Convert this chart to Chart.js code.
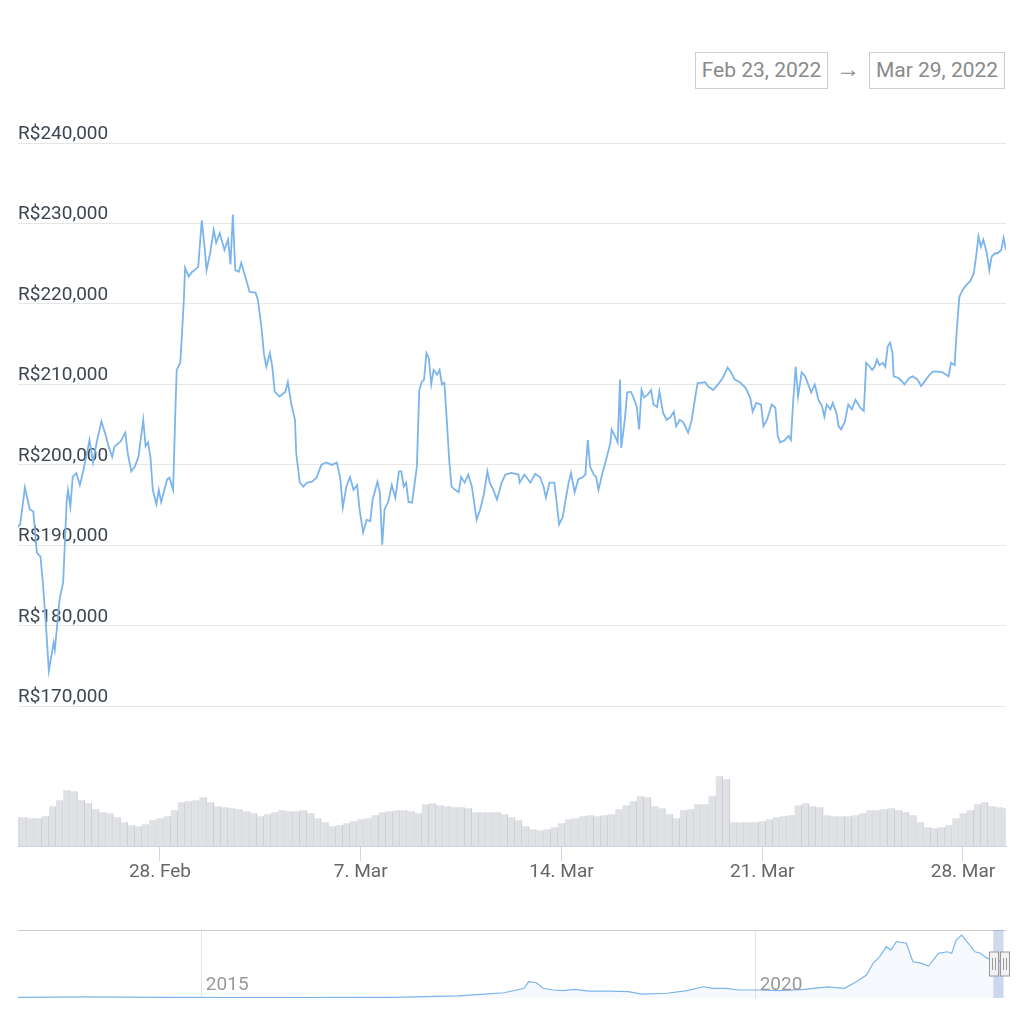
<!DOCTYPE html>
<html>
<head>
<meta charset="utf-8">
<script src="https://cdn.jsdelivr.net/npm/chart.js@4.4.1/dist/chart.umd.min.js"></script>
<style>
  html, body { margin: 0; padding: 0; background: #fff; }
  body { width: 1024px; height: 1024px; position: relative; overflow: hidden; font-family: Roboto, 'Noto Sans', sans-serif; }
  #mainChart { position: absolute; left: 0; top: 0; }
  #navChart { position: absolute; left: 0; top: 920px; }
  .range { position: absolute; top: 52px; height: 35px; line-height: 35px; border: 1px solid #cfcfcf; font-size: 21px; color: #8a8a8a; text-align: center; }
  #arrow { position: absolute; left: 836px; top: 51px; line-height: 37px; font-size: 24px; color: #8a8a8a; }
</style>
</head>
<body>
<div class="range" id="rangeFrom" style="left:695px;width:131px;"></div>
<div id="arrow">&rarr;</div>
<div class="range" id="rangeTo" style="left:869px;width:134px;"></div>
<canvas id="mainChart" width="1024" height="900"></canvas>
<canvas id="navChart" width="1024" height="90"></canvas>
<script>
// hours since 23 Feb 2022 00:00
const priceHours = [1,3,7,11,14,17,20,22,25,27, 31,32,36,39,42,43,45,47,50,53,
  56,59,61,64,67,71,74,77,80,82, 87,91,93,96,99,102,106,108,110,112,
  114,116,117,119,121,126,128,131,133,134, 137,138,140,141,144,147,149,152,155,157,
  159,162,165,167,170,174,177,179,181,183, 186,188,191,195,200,202,205,207,209,212,
  214,216,220,225,227,230,233,234,237,240, 243,247,251,255,259,264,268,271,273,276,
  279,282,285,287,290,293,296,298,302,304, 306,308,311,314,317,320,322,324,326,328,
  331,335,337,339,341,343,345,347,349,352, 354,356,358,360,362,364,367,370,372,375,
  378,381,385,388,391,394,396,399,402,406, 409,414,420,421,425,430,434,438,441,443,
  446,450,452,454,457,459,462,464,467,470, 474,476,478,480,483,485,487,490,494,497,
  498,501,503,505,506,509,511,514,516,519, 521,523,525,528,531,533,536,538,541,544,
  547,550,552,555,558,562,565,568,570,573, 576,579,583,587,591,595,598,601,605,610,
  614,616,619,623,625,628,632,635,637,639, 643,646,648,650,652,654,657,660,662,665,
  668,671,674,676,678,681,683,686,688,690, 693,696,699,702,706,709,711,714,716,718,
  720,722,725,727,729,731,733,734,738,741, 743,747,750,754,757,761,764,767,771,775,
  780,782,785,787,789,792,795,798,801,803, 805,807,809,812,814,816,819,821,824,826,
  828];

// BTC price, thousands of R$
const pricesK = [192.3,192.6,197.2,194.5,194.2,189.1,188.6,185.4,179.2,174.4,
  177.9,177.0,183.3,185.4,195.7,196.9,194.8,198.5,199.0,197.5,
  199.4,201.5,203.1,200.3,202.8,205.4,204.0,202.3,201.0,202.3,
  202.9,204.0,201.5,199.2,199.8,201.0,205.6,202.3,202.8,201.0,
  196.9,195.7,195.1,196.9,195.4,198.2,198.4,196.9,207.2,211.8,
  212.7,215.2,220.5,224.5,223.4,224.0,224.2,224.6,230.4,227.6,
  224.2,226.3,229.2,227.6,228.8,226.7,228.0,224.9,231.1,224.2,
  224.0,225.1,223.6,221.5,221.4,220.5,217.0,213.8,212.2,213.9,
  212.2,209.1,208.5,209.1,210.3,207.5,205.6,201.5,197.8,197.3,
  197.8,197.9,198.4,200.0,200.3,200.0,200.3,198.2,194.7,197.3,
  198.5,196.9,197.5,194.5,191.6,193.2,193.0,195.7,197.9,196.6,
  190.1,194.5,195.4,197.5,195.9,199.2,199.2,197.3,197.8,195.4,
  195.3,199.8,209.3,210.3,210.6,213.9,213.3,210.0,211.8,211.2,
  211.8,210.0,210.2,205.6,200.7,197.3,196.9,196.6,198.5,197.8,
  198.8,197.3,193.2,194.5,196.3,199.2,197.8,196.9,195.7,197.8,
  198.8,199.0,198.8,197.8,198.8,197.8,198.9,198.5,197.3,195.9,
  197.8,197.8,195.3,192.6,193.5,195.3,197.8,199.0,196.6,198.2,
  198.5,198.8,203.1,199.8,198.8,198.5,196.9,198.8,201.0,202.8,
  204.4,203.5,202.8,210.6,202.1,205.6,209.0,209.1,208.5,207.2,
  204.4,209.3,208.4,208.7,209.3,207.5,207.2,209.1,206.5,205.6,
  205.9,206.6,204.8,205.6,205.3,204.0,205.6,208.5,210.2,210.2,
  210.3,209.7,209.3,210.0,210.8,212.1,211.5,210.6,210.3,209.6,
  208.3,206.6,207.7,207.5,204.8,205.6,207.5,207.1,203.6,202.8,
  203.1,203.6,203.1,208.1,212.2,208.5,211.5,211.0,210.2,209.0,
  210.0,208.1,207.3,206.0,207.5,206.9,207.7,206.5,204.8,204.4,
  205.3,207.5,206.9,208.1,207.1,206.7,212.7,212.2,211.8,212.2,
  213.1,212.4,212.7,212.2,214.7,215.2,213.9,211.0,210.8,210.4,
  210.0,210.8,211.0,210.6,209.8,210.6,211.2,211.6,211.6,211.5,
  211.0,212.7,212.4,217.2,220.9,221.8,222.4,222.8,223.8,225.9,
  228.4,227.1,228.0,226.3,224.2,225.9,226.3,226.3,226.7,228.2,
  226.7];

// volume, one bar every 6 hours from hour 0
const volStep = 6;
const volumes = [29,29,28,28,30,40,46,56,55,46,
  43,37,34,33,29,24,21,20,22,26,
  28,30,36,44,45,46,49,44,40,39,
  38,37,35,33,30,32,34,36,35,35,
  36,33,28,24,20,21,23,25,27,28,
  31,34,35,36,36,35,33,42,43,41,
  40,39,39,38,34,34,34,34,32,29,
  26,20,17,16,17,19,23,27,28,30,
  31,30,31,32,37,41,45,50,49,40,
  38,32,28,36,37,42,42,50,70,67,
  24,24,24,24,25,27,29,30,31,41,
  43,40,39,31,30,30,30,31,33,36,
  36,37,38,36,34,31,24,19,18,19,
  21,28,33,36,42,44,40,39,38];

const priceTicks = [170000,180000,190000,200000,210000,220000,230000,240000];
const xTickHours = [120,288,456,624,792];
const xTickLabels = ['28. Feb','7. Mar','14. Mar','21. Mar','28. Mar'];

// navigator: full history, year fraction / thousands of R$
const navYears = [2013.33,2013.95,2014.66,2015.54,2016.72,2017.31,2017.55,2017.73,2017.91,2017.95,
  2018.02,2018.08,2018.17,2018.26,2018.37,2018.49,2018.67,2018.85,2018.97,2019.2,
  2019.38,2019.53,2019.62,2019.73,2019.85,2020.03,2020.21,2020.44,2020.65,2020.8,
  2020.91,2021.0,2021.06,2021.12,2021.18,2021.22,2021.27,2021.36,2021.42,2021.5,
  2021.56,2021.65,2021.73,2021.77,2021.81,2021.86,2021.92,2021.98,2022.03,2022.09,
  2022.24];
const navPricesK = [4,7,4,3,4,12,23,31,57,96,
  90,57,47,43,51,41,41,37,23,28,
  43,66,57,57,47,47,43,51,66,57,
  96,135,204,243,302,282,331,322,213,204,
  188,263,272,263,341,370,322,272,263,233,
  212];
const navTickYears = [2015, 2020];
const navRange = [2022.145, 2022.238];
const rangeLabels = ['Feb 23, 2022', 'Mar 29, 2022'];

document.getElementById('rangeFrom').textContent = rangeLabels[0];
document.getElementById('rangeTo').textContent = rangeLabels[1];

Chart.defaults.font.family = 'Roboto';

new Chart(document.getElementById('mainChart'), {
  type: 'line',
  data: {
    datasets: [{
      type: 'line',
      data: priceHours.map((h, i) => ({ x: h, y: pricesK[i] * 1000 })),
      borderColor: '#7cb5ec',
      borderWidth: 1.8,
      pointRadius: 0,
      tension: 0,
      yAxisID: 'y',
      order: 0
    }, {
      type: 'bar',
      data: volumes.map((v, i) => ({ x: i * volStep, y: v })),
      backgroundColor: '#dfe1e5',
      borderColor: '#c7cbd1',
      borderWidth: { left: 0, right: 1, top: 0, bottom: 0 },
      borderSkipped: false,
      barPercentage: 1,
      categoryPercentage: 1,
      yAxisID: 'yv',
      order: 1
    }]
  },
  options: {
    responsive: false,
    animation: false,
    layout: { padding: { left: 18, right: 18, top: 143, bottom: 16 } },
    plugins: { legend: { display: false }, tooltip: { enabled: false } },
    scales: {
      x: {
        type: 'linear',
        min: 1.2,
        max: 828,
        offset: false,
        afterBuildTicks: ax => { ax.ticks = xTickHours.map(v => ({ value: v })); },
        grid: { offset: false, drawOnChartArea: false, tickLength: 15, tickColor: '#ccd6eb' },
        border: { color: '#ccd6eb' },
        ticks: {
          callback: v => xTickLabels[xTickHours.indexOf(v)],
          color: '#666666',
          font: { size: 19 },
          padding: 0,
          maxRotation: 0,
          autoSkip: false
        }
      },
      y: {
        position: 'left',
        min: 152623,
        max: 240000,
        afterBuildTicks: ax => { ax.ticks = priceTicks.map(v => ({ value: v })); },
        grid: { color: '#e6e6e6', drawTicks: false },
        border: { display: false },
        ticks: {
          mirror: true,
          padding: 0,
          labelOffset: -9,
          color: '#3d4551',
          font: { size: 19 },
          callback: v => 'R$' + v.toLocaleString('en-US')
        }
      },
      yv: { position: 'right', display: false, min: 0, max: 704 }
    }
  }
});

const navigatorDecor = {
  id: 'navigatorDecor',
  afterDraw(chart) {
    const { ctx, chartArea } = chart;
    const xs = chart.scales.x;
    ctx.save();
    ctx.strokeStyle = '#cccccc';
    ctx.lineWidth = 1;
    ctx.beginPath();
    ctx.moveTo(chartArea.left, chartArea.top + 0.5);
    ctx.lineTo(chartArea.right, chartArea.top + 0.5);
    ctx.stroke();

    ctx.fillStyle = '#999999';
    ctx.font = '19px Roboto';
    ctx.textBaseline = 'middle';
    ctx.textAlign = 'left';
    navTickYears.forEach(t => {
      ctx.fillText(String(t), xs.getPixelForValue(t) + 4, chartArea.bottom - 13);
    });

    const a = xs.getPixelForValue(navRange[0]);
    const b = xs.getPixelForValue(navRange[1]);
    ctx.fillStyle = 'rgba(102,133,194,0.3)';
    ctx.fillRect(a, chartArea.top, b - a, chartArea.bottom - chartArea.top);

    const midY = (chartArea.top + chartArea.bottom) / 2;
    [a, b].forEach(px => {
      const hx = Math.round(px - 4) + 0.5;
      ctx.fillStyle = '#f2f2f2';
      ctx.strokeStyle = '#999999';
      ctx.fillRect(hx, midY - 12, 9, 24);
      ctx.strokeRect(hx, midY - 12, 9, 24);
      ctx.beginPath();
      ctx.moveTo(hx + 3, midY - 6); ctx.lineTo(hx + 3, midY + 6);
      ctx.moveTo(hx + 6, midY - 6); ctx.lineTo(hx + 6, midY + 6);
      ctx.stroke();
    });
    ctx.restore();
  }
};

new Chart(document.getElementById('navChart'), {
  type: 'line',
  data: {
    datasets: [{
      data: navYears.map((t, i) => ({ x: t, y: navPricesK[i] })),
      borderColor: '#7cb5ec',
      borderWidth: 1.2,
      backgroundColor: 'rgba(124,181,236,0.07)',
      fill: 'start',
      pointRadius: 0,
      tension: 0
    }]
  },
  options: {
    responsive: false,
    animation: false,
    layout: { padding: { left: 18, right: 18, top: 10, bottom: 12 } },
    plugins: { legend: { display: false }, tooltip: { enabled: false } },
    scales: {
      x: {
        type: 'linear',
        min: 2013.34,
        max: 2022.26,
        afterBuildTicks: ax => { ax.ticks = navTickYears.map(v => ({ value: v })); },
        grid: { color: '#e6e6e6', drawTicks: false },
        border: { display: false },
        ticks: { display: false }
      },
      y: { display: false, min: 0, max: 400 }
    }
  },
  plugins: [navigatorDecor]
});
</script>
</body>
</html>
